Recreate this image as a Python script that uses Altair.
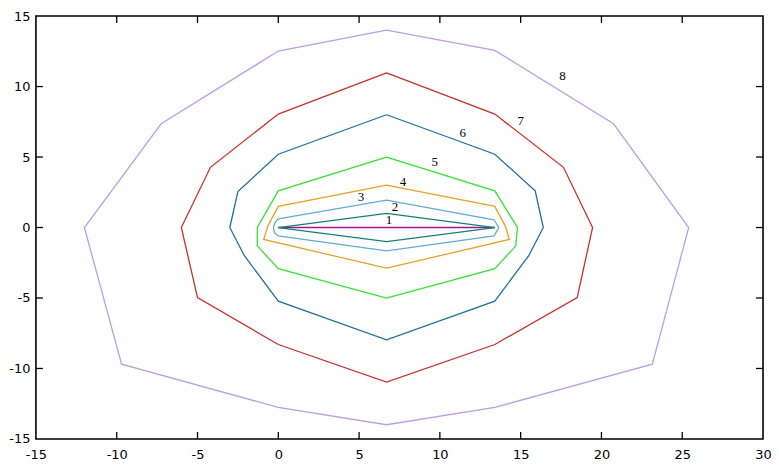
import altair as alt
import pandas as pd

# contour polylines (closed)
c1_x = [0, 13.4]
c1_y = [0, 0]
c2_x = [0, 6.7, 13.4, 6.7, 0]
c2_y = [0, 1.0, 0, -1.0, 0]
c3_x = [0, 6.7, 13.35, 13.65, 13.35, 6.7, 0, -0.25, -0.3, -0.2, 0]
c3_y = [0.62, 1.94, 0.55, 0, -0.6, -1.66, -0.6, -0.35, 0, 0.35, 0.62]
c4_x = [6.7, 13.4, 14.05, 14.3, 6.7, -0.9, -0.65, 0, 6.7]
c4_y = [3.0, 1.5, 0.1, -0.85, -2.88, -0.85, 0.1, 1.5, 3.0]
c5_x = [6.7, 13.4, 14.8, 14.7, 13.4, 6.7, 0, -1.3, -1.3, 0, 6.7]
c5_y = [5.0, 2.6, 0, -1.3, -2.92, -5.0, -2.92, -1.3, 0, 2.6, 5.0]
c6_x = [6.7, 13.4, 15.9, 16.4, 15.5, 13.4, 6.7, 0, -2.1, -3.0, -2.5, 0, 6.7]
c6_y = [8.0, 5.2, 2.6, 0, -2.0, -5.22, -7.97, -5.22, -2.0, 0, 2.55, 5.2, 8.0]
c7_x = [6.7, 13.4, 17.65, 19.45, 18.5, 13.4, 6.7, 0, -5.0, -6.0, -4.2, 0, 6.7]
c7_y = [10.97, 8.05, 4.27, 0, -4.97, -8.3, -10.97, -8.3, -4.97, 0, 4.27, 8.05, 10.97]
c8_x = [6.7, 13.4, 20.75, 25.4, 23.15, 13.4, 6.7, 0, -9.7, -12.0, -7.25, 0, 6.7]
c8_y = [14.0, 12.57, 7.36, 0, -9.69, -12.76, -13.99, -12.76, -9.69, 0, 7.36, 12.52, 14.0]

contour_xs = [c1_x, c2_x, c3_x, c4_x, c5_x, c6_x, c7_x, c8_x]
contour_ys = [c1_y, c2_y, c3_y, c4_y, c5_y, c6_y, c7_y, c8_y]
contour_ids = ["1", "2", "3", "4", "5", "6", "7", "8"]
contour_colors = ["#a0139f", "#16806f", "#64aad6", "#e3a425", "#35e035",
                  "#22709e", "#c83030", "#b9a0e2"]

label_text = ["1", "2", "3", "4", "5", "6", "7", "8"]
label_x = [6.85, 7.22, 5.12, 7.72, 9.69, 11.42, 15.0, 17.59]
label_y = [0.52, 1.43, 2.13, 3.24, 4.64, 6.73, 7.57, 10.78]

x_ticks = [-15, -10, -5, 0, 5, 10, 15, 20, 25, 30]
y_ticks = [-15, -10, -5, 0, 5, 10, 15]
x_inner = [-10, -5, 0, 5, 10, 15, 20, 25]
y_inner = [-10, -5, 0, 5, 10]

rows = []
for cid, xs, ys in zip(contour_ids, contour_xs, contour_ys):
    for i, (xv, yv) in enumerate(zip(xs, ys)):
        rows.append({"c": cid, "x": xv, "y": yv, "o": i})
df = pd.DataFrame(rows)
labels = pd.DataFrame({"t": label_text, "x": label_x, "y": label_y})

W, H = 729, 424
TL = 7
FONT = "DejaVu Sans"
FS = 13

xs = alt.Scale(domain=[-15, 30], nice=False, zero=False)
ys = alt.Scale(domain=[-15, 15], nice=False, zero=False)

lines = alt.Chart(df).mark_line(strokeWidth=1.3).encode(
    x=alt.X("x:Q", scale=xs, axis=alt.Axis(values=x_ticks, ticks=False, tickSize=0,
            grid=False, domain=False, title=None, labelFont=FONT, labelFontSize=FS,
            labelColor="black", labelPadding=10, labelFlush=False, labelOverlap=False,
            labelExpr="'' + datum.value")),
    y=alt.Y("y:Q", scale=ys, axis=alt.Axis(values=y_ticks, ticks=False, tickSize=0,
            grid=False, domain=False, title=None, labelFont=FONT, labelFontSize=FS,
            labelColor="black", labelPadding=6, labelFlush=False, labelOverlap=False,
            labelExpr="'' + datum.value")),
    color=alt.Color("c:N", scale=alt.Scale(domain=contour_ids, range=contour_colors), legend=None),
    order="o:Q",
    detail="c:N",
)

txt = alt.Chart(labels).mark_text(font="Liberation Serif", fontSize=13, color="black",
                                  align="center", baseline="middle").encode(
    x=alt.X("x:Q", scale=xs), y=alt.Y("y:Q", scale=ys), text="t:N")

xt = pd.DataFrame({"v": x_inner})
yt = pd.DataFrame({"v": y_inner})
tb = alt.Chart(xt).mark_rule(color="black", strokeWidth=1.3).encode(
    x=alt.X("v:Q", scale=xs), y=alt.value(H), y2=alt.value(H - TL))
tt = alt.Chart(xt).mark_rule(color="black", strokeWidth=1.3).encode(
    x=alt.X("v:Q", scale=xs), y=alt.value(0), y2=alt.value(TL))
tlft = alt.Chart(yt).mark_rule(color="black", strokeWidth=1.3).encode(
    y=alt.Y("v:Q", scale=ys), x=alt.value(0), x2=alt.value(TL))
trgt = alt.Chart(yt).mark_rule(color="black", strokeWidth=1.3).encode(
    y=alt.Y("v:Q", scale=ys), x=alt.value(W), x2=alt.value(W - TL))

chart = alt.layer(lines, txt, tb, tt, tlft, trgt).properties(
    width=W, height=H,
    autosize=alt.AutoSizeParams(type="none"),
    padding={"left": 28, "top": 7.5, "right": 8, "bottom": 22},
    background="white",
).configure_view(stroke="black", strokeWidth=1.6)

chart.save("out.html", embed_options={"renderer": "svg", "actions": False})
